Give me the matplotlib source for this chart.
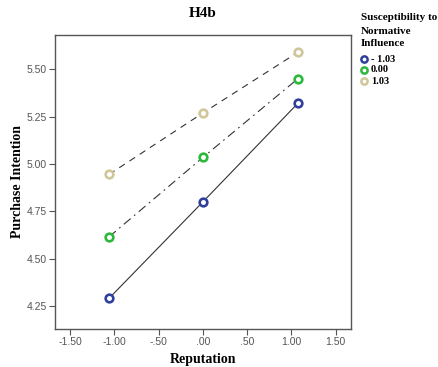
import matplotlib
matplotlib.use('Agg')
import matplotlib.pyplot as plt
from matplotlib.lines import Line2D

# data
reputation = [-1.06, 0.00, 1.07]
low_snI = [4.29, 4.80, 5.32]     # -1.03
mid_snI = [4.615, 5.035, 5.45]   # 0.00
high_snI = [4.945, 5.27, 5.59]   # 1.03
group_labels = ['- 1.03', '0.00', '1.03']

x_ticks = [-1.5, -1.0, -0.5, 0.0, 0.5, 1.0, 1.5]
x_ticklabels = ['-1.50', '-1.00', '-.50', '.00', '.50', '1.00', '1.50']
y_ticks = [4.25, 4.50, 4.75, 5.00, 5.25, 5.50]
y_ticklabels = ['4.25', '4.50', '4.75', '5.00', '5.25', '5.50']

colors = ['#2f3f9e', '#2cb83a', '#cfc79a']
styles = ['-', (0, (8, 4, 1.5, 4)), (0, (6, 5))]

serif = 'Liberation Serif'
sans = 'Liberation Sans'

fig = plt.figure(figsize=(4.38, 3.67), dpi=100)
ax = fig.add_axes([55/438, 1-329/367, (351-55)/438, (329-35)/367])

for ys, c, ls in zip([low_snI, mid_snI, high_snI], colors, styles):
    ax.plot(reputation, ys, color='#333333', lw=0.8, linestyle=ls, zorder=1)
    ax.plot(reputation, ys, 'o', ms=5.5, mfc='white', mec=c, mew=1.9, zorder=2)

ax.set_xlim(-1.67, 1.672)
ax.set_ylim(4.128, 5.682)
ax.set_xticks(x_ticks)
ax.set_xticklabels(x_ticklabels, fontfamily=sans, fontsize=7.5, color='#555555')
ax.set_yticks(y_ticks)
ax.set_yticklabels(y_ticklabels, fontfamily=sans, fontsize=7.5, color='#555555')
ax.tick_params(direction='out', length=4, width=0.8, color='#555555', pad=2)
for s in ax.spines.values():
    s.set_color('#555555')
    s.set_linewidth(1.0)

ax.set_title('H4b', fontfamily=serif, fontweight='bold', fontsize=11, pad=13)
ax.set_xlabel('Reputation', fontfamily=serif, fontweight='bold', fontsize=10, labelpad=4)
ax.set_ylabel('Purchase Intention', fontfamily=serif, fontweight='bold', fontsize=10, labelpad=2)

# legend outside to the right
legend_title = ['Susceptibility to', 'Normative', 'Influence']
for i, t in enumerate(legend_title):
    fig.text(361/438, 1-(18 + i*13)/367, t, fontfamily=serif, fontweight='bold',
             fontsize=8, va='center', ha='left')
for i, (c, lab) in enumerate(zip(colors, group_labels)):
    yy = 1 - (59 + i*11)/367
    fig.add_artist(Line2D([364/438], [yy], marker='o', ms=4.5, mfc='white', mec=c, mew=1.8,
                          transform=fig.transFigure))
    fig.text(371/438, yy, lab, fontfamily=serif, fontweight='bold', fontsize=7.5,
             va='center', ha='left')

fig.savefig('out.png', dpi=100)
